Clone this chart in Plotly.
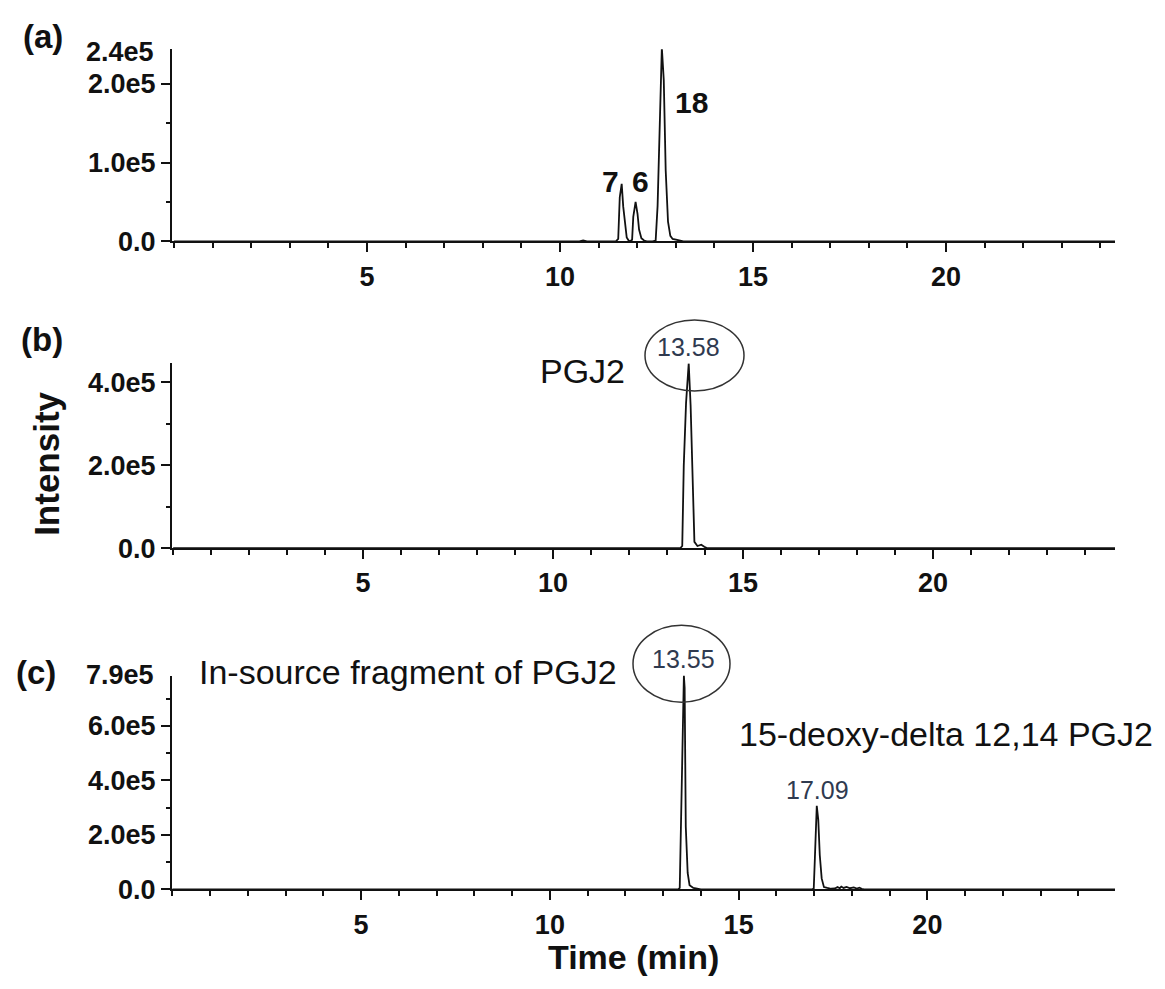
import plotly.graph_objects as go

W, H = 1165, 989

# ---------------- data ----------------
# (a) chromatogram: time (min) / intensity
time_a = [0.0, 10.5, 10.6, 10.7, 11.45, 11.51, 11.55, 11.60, 11.64, 11.68, 11.73, 11.78, 11.82,
          11.87, 11.90, 11.96, 12.01, 12.05, 12.11, 12.18, 12.25, 12.40, 12.48, 12.53, 12.59,
          12.64, 12.69, 12.74, 12.80, 12.86, 12.92, 13.00, 13.10, 13.20, 24.4]
int_a = [0, 0, 1000, 0, 0, 3000, 56000, 73000, 44000, 22000, 5000, 1000, 0,
         2000, 31000, 50000, 35000, 15000, 4000, 1000, 0, 0, 1000, 45000, 155000,
         246000, 205000, 90000, 25000, 7000, 3000, 2000, 1000, 0, 0]

# (b) chromatogram
time_b = [0.0, 13.35, 13.40, 13.44, 13.50, 13.57, 13.62, 13.67, 13.72, 13.80, 13.90, 13.98, 14.05, 24.8]
int_b = [0, 0, 5000, 200000, 350000, 446000, 345000, 175000, 15000, 5000, 8000, 3000, 0, 0]

# (c) chromatogram
time_c = [0.0, 13.40, 13.44, 13.46, 13.50, 13.55, 13.57, 13.60, 13.65, 13.70, 13.80, 13.90, 14.00,
          16.95, 16.99, 17.02, 17.07, 17.11, 17.15, 17.20, 17.26, 17.35, 17.45, 17.55, 17.62,
          17.68, 17.72, 17.78, 17.86, 17.95, 18.05, 18.13, 18.20, 18.26, 18.32, 25.0]
int_c = [0, 0, 5000, 155000, 540000, 785000, 740000, 230000, 60000, 15000, 5000, 3000, 0,
         0, 3000, 115000, 307000, 255000, 125000, 40000, 8000, 5000, 2000, 3000, 8000,
         4000, 10000, 5000, 9000, 4000, 7000, 3000, 6000, 2000, 0, 0]

x_major = [5, 10, 15, 20]
x_major_text = ["5", "10", "15", "20"]
ya_vals = [0, 100000, 200000]
ya_text = ["0.0", "1.0e5", "2.0e5"]
yb_vals = [0, 200000, 400000]
yb_text = ["0.0", "2.0e5", "4.0e5"]
yc_vals = [0, 200000, 400000, 600000]
yc_text = ["0.0", "2.0e5", "4.0e5", "6.0e5"]

FONT = "Liberation Sans, Arial, sans-serif"


def px(xp):
    return xp / W


def py(yp):
    return 1 - yp / H


fig = go.Figure()
line = dict(color="#111111", width=1.8)
fig.add_trace(go.Scatter(x=time_a, y=int_a, mode="lines", line=line, xaxis="x", yaxis="y",
                         showlegend=False, hoverinfo="skip"))
fig.add_trace(go.Scatter(x=time_b, y=int_b, mode="lines", line=line, xaxis="x2", yaxis="y2",
                         showlegend=False, hoverinfo="skip"))
fig.add_trace(go.Scatter(x=time_c, y=int_c, mode="lines", line=line, xaxis="x3", yaxis="y3",
                         showlegend=False, hoverinfo="skip"))

xdom = [px(172), px(1115)]
tickfont = dict(family=FONT, size=27, color="#111111", weight="bold")


def xaxis(rng, anchor):
    return dict(domain=xdom, range=rng, anchor=anchor, showgrid=False, zeroline=False,
                showline=True, linecolor="#111111", linewidth=2,
                ticks="outside", ticklen=9, tickwidth=2, tickcolor="#111111",
                tickvals=x_major, ticktext=x_major_text, tickfont=tickfont,
                ticklabelstandoff=1,
                minor=dict(dtick=1, tick0=0, ticks="outside", ticklen=5, tickwidth=2,
                           tickcolor="#111111", showgrid=False))


def yaxis(dom, rng, vals, text, mdt, anchor):
    return dict(domain=dom, range=rng, anchor=anchor, showgrid=False, zeroline=False,
                showline=True, linecolor="#111111", linewidth=2,
                ticks="outside", ticklen=9, tickwidth=2, tickcolor="#111111",
                tickvals=vals, ticktext=text, tickfont=tickfont,
                minor=dict(dtick=mdt, tick0=0, ticks="outside", ticklen=4, tickwidth=2,
                           tickcolor="#111111", showgrid=False))


fig.update_layout(
    width=W, height=H, margin=dict(l=0, r=0, t=0, b=0),
    paper_bgcolor="white", plot_bgcolor="white",
    xaxis=xaxis([-0.05, 24.38], "y"),
    xaxis2=xaxis([-0.03, 24.79], "y2"),
    xaxis3=xaxis([-0.01, 24.97], "y3"),
    yaxis=yaxis([py(245), py(50)], [0, 244000], ya_vals, ya_text, 50000, "x"),
    yaxis2=yaxis([py(556.5), py(369)], [0, 446000], yb_vals, yb_text, 100000, "x2"),
    yaxis3=yaxis([py(903), py(686)], [0, 785000], yc_vals, yc_text, 100000, "x3"),
)

ann = []


def add_text(text, xp, yp, size, bold=False, color="#111111", xanchor="center", angle=0):
    ann.append(dict(text=text, x=px(xp), y=py(yp), xref="paper", yref="paper",
                    xanchor=xanchor, yanchor="middle", showarrow=False, textangle=angle,
                    font=dict(family=FONT, size=size, color=color,
                              weight="bold" if bold else "normal")))


add_text("(a)", 43, 37, 33, bold=True)
add_text("(b)", 42, 345, 33, bold=True)
add_text("(c)", 36, 683, 33, bold=True)
add_text("Intensity", 47, 471, 35, bold=True, angle=-90)
add_text("Time (min)", 633, 972, 34, bold=True)
add_text("2.4e5", 156, 53, 27, bold=True, xanchor="right")
add_text("7.9e5", 156, 685, 27, bold=True, xanchor="right")
add_text("7", 610, 184, 30, bold=True)
add_text("6", 640, 184, 30, bold=True)
add_text("18", 691, 104, 30, bold=True)
add_text("PGJ2", 582, 377, 34)
add_text("13.58", 688, 352, 25, color="#2f3a4f")
add_text("In-source fragment of PGJ2", 408, 682, 34)
add_text("13.55", 683, 669, 25, color="#2f3a4f")
add_text("15-deoxy-delta 12,14 PGJ2", 946, 745, 34)
add_text("17.09", 817, 802, 25, color="#2f3a4f")
fig.update_layout(annotations=ann)

shapes = []
for (x0, y0, x1, y1) in [(645, 325, 744, 397), (633, 635, 730, 713)]:
    shapes.append(dict(type="circle", xref="paper", yref="paper",
                       x0=px(x0), x1=px(x1), y0=py(y1), y1=py(y0),
                       line=dict(color="#333333", width=1.5)))
fig.update_layout(shapes=shapes)

fig.write_html("out.html")
